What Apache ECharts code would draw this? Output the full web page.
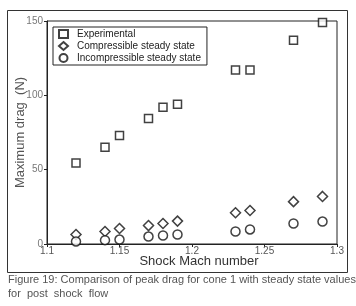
<!DOCTYPE html>
<html><head><meta charset="utf-8">
<script src="https://cdn.jsdelivr.net/npm/echarts@6/dist/echarts.min.js"></script>
<style>html,body{margin:0;padding:0;background:#fff}#c{width:356px;height:306px}</style>
</head><body><div id="c"></div>
<script>
const mach = [1.12, 1.14, 1.15, 1.17, 1.18, 1.19, 1.23, 1.24, 1.27, 1.29];
const experimental = [54.5, 65, 73, 84.5, 92, 94, 117, 117, 137, 149];
const compressible = [6.4, 8.4, 10.4, 12.4, 13.8, 15.4, 21, 22.5, 28.5, 32];
const incompressible = [1.7, 2.6, 3.0, 5.0, 5.7, 6.4, 8.4, 9.8, 13.8, 15.1];
const seriesNames = ['Experimental', 'Compressible steady state', 'Incompressible steady state'];
const xTicks = [1.1, 1.15, 1.2, 1.25, 1.3];
const yTicks = [0, 50, 100, 150];
const captionLines = ['Figure 19: Comparison of peak drag for cone 1 with steady state values', 'for  post  shock  flow'];

const pair = (ys) => mach.map((x, i) => [x, ys[i]]);
const chart = echarts.init(document.getElementById('c'));
const mk = (name, ys, symbol, size) => ({
  name, type: 'scatter', data: pair(ys), symbol, symbolSize: size,
  itemStyle: { color: '#fff', borderColor: '#111', borderWidth: 1.5 },
  emphasis: { disabled: true }
});
chart.setOption({
  animation: false,
  grid: { left: 47, right: 19, top: 21, bottom: 62, show: true, borderColor: '#222', borderWidth: 1,
          containLabel: false, outerBoundsMode: 'none' },
  xAxis: {
    type: 'value', min: 1.1, max: 1.3, interval: 0.05,
    name: 'Shock Mach number', nameLocation: 'middle', nameGap: 11, nameMoveOverlap: false,
    nameTextStyle: { fontFamily: 'Liberation Sans', fontSize: 13, color: '#333', padding: [0, 0, 0, 14], verticalAlign: 'top' },
    axisLine: { lineStyle: { color: '#222' } },
    axisTick: { show: true, length: 3, lineStyle: { color: '#222' } },
    splitLine: { show: false },
    axisLabel: { fontFamily: 'Liberation Sans', fontSize: 10, color: '#555', margin: 2,
      formatter: v => { const t = xTicks.find(k => Math.abs(k - v) < 1e-6); return t === undefined ? '' : String(t); } }
  },
  yAxis: {
    type: 'value', min: 0, max: 150, interval: 50,
    name: 'Maximum drag  (N)', nameLocation: 'middle', nameGap: 20, nameMoveOverlap: false,
    nameTextStyle: { fontFamily: 'Liberation Sans', fontSize: 13, color: '#555' },
    axisLine: { lineStyle: { color: '#222' } },
    axisTick: { show: true, length: 3, lineStyle: { color: '#222' } },
    splitLine: { show: false },
    axisLabel: { fontFamily: 'Liberation Sans', fontSize: 10, color: '#777', margin: 4,
      formatter: v => yTicks.includes(v) ? String(v) : '' }
  },
  legend: {
    left: 53, top: 27, orient: 'vertical', itemGap: 2, itemWidth: 9, itemHeight: 8,
    padding: [2, 6, 2, 5], borderColor: '#222', borderWidth: 1, backgroundColor: '#fff',
    textStyle: { fontFamily: 'Liberation Sans', fontSize: 10, color: '#222', padding: [0, 0, 0, 4] },
    data: seriesNames.map(n => ({ name: n }))
  },
  series: [
    mk(seriesNames[0], experimental, 'rect', 8),
    mk(seriesNames[1], compressible, 'diamond', 10),
    mk(seriesNames[2], incompressible, 'circle', 9)
  ],
  graphic: [
    { type: 'rect', shape: { x: 7.5, y: 10.5, width: 340, height: 262 }, style: { fill: null, stroke: '#333', lineWidth: 1 }, silent: true, z: -1 },
    { type: 'text', left: 8, top: 273, style: { text: captionLines.join('\n'), fontFamily: 'Liberation Sans', fontSize: 11, lineHeight: 14, fill: '#555' } }
  ]
});
</script></body></html>
